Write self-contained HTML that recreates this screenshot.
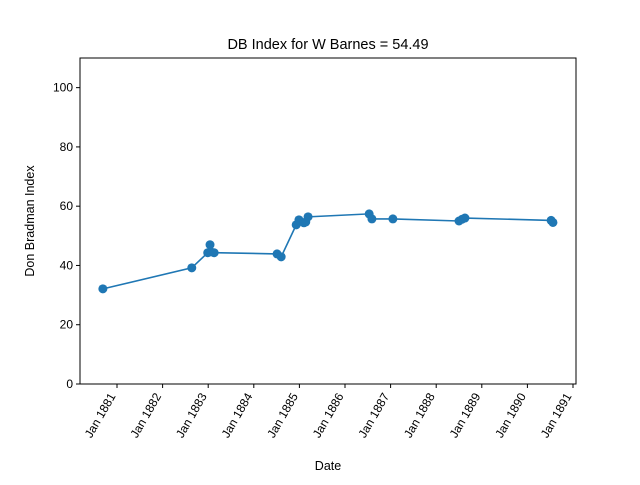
<!DOCTYPE html>
<html><head><meta charset="utf-8"><style>
body{margin:0;background:#fff;font-family:"Liberation Sans",sans-serif}
svg text{font-family:"Liberation Sans",sans-serif;fill:#000}
</style></head><body>
<svg id="c" width="640" height="480"></svg>
<script>
const dates=[1880.69,1882.64,1882.99,1883.04,1883.06,1883.13,1884.51,1884.60,1884.93,1884.99,1885.10,1885.14,1885.19,1886.53,1886.59,1887.05,1888.50,1888.57,1888.63,1890.52,1890.56];
const values=[32.1,39.2,44.3,47.0,44.6,44.3,43.9,42.9,53.7,55.4,54.4,54.7,56.4,57.4,55.7,55.7,55.0,55.6,56.0,55.2,54.5];
const yTicks=[0,20,40,60,80,100];
const xTickYears=[1881,1882,1883,1884,1885,1886,1887,1888,1889,1890,1891];
const NS='http://www.w3.org/2000/svg';
const svg=document.getElementById('c');
const L=80,R=576,T=58,B=384;
const xs=v=>117+(v-1881)*45.6;
const ys=v=>B-(v/110)*(B-T);
function mk(t,a){const e=document.createElementNS(NS,t);for(const k in a)e.setAttribute(k,a[k]);svg.appendChild(e);return e;}
let e=mk('text',{x:328,y:49,'text-anchor':'middle','font-size':14.5});e.textContent='DB Index for W Barnes = 54.49';


yTicks.forEach(v=>{const y=ys(v);mk('line',{x1:L-4,x2:L,y1:y,y2:y,stroke:'#000'});
const t=mk('text',{x:L-7,y:y+4,'text-anchor':'end','font-size':12});t.textContent=v;

});
xTickYears.forEach(v=>{const x=xs(v);mk('line',{x1:x,x2:x,y1:B,y2:B+4,stroke:'#000'});
const ax=x-1,ay=B+12;
const t=mk('text',{x:ax,y:ay,'text-anchor':'end','font-size':12,transform:`rotate(-60 ${ax} ${ay})`});t.textContent='Jan '+v;

});
e=mk('text',{x:328,y:470,'text-anchor':'middle','font-size':12.5});e.textContent='Date';


e=mk('text',{x:34,y:221,'text-anchor':'middle','font-size':12.5,transform:'rotate(-90 34 221)'});e.textContent='Don Bradman Index';


const p=mk('polyline',{points:dates.map((d,i)=>xs(d)+','+ys(values[i])).join(' '),fill:'none',stroke:'#1f77b4','stroke-width':1.6});


dates.forEach((d,i)=>{const c=mk('circle',{cx:xs(d),cy:ys(values[i]),r:4.5,fill:'#1f77b4'});

});
const f=mk('rect',{x:L,y:T,width:R-L,height:B-T,fill:'none',stroke:'#000','stroke-width':1});


</script>
</body></html>
